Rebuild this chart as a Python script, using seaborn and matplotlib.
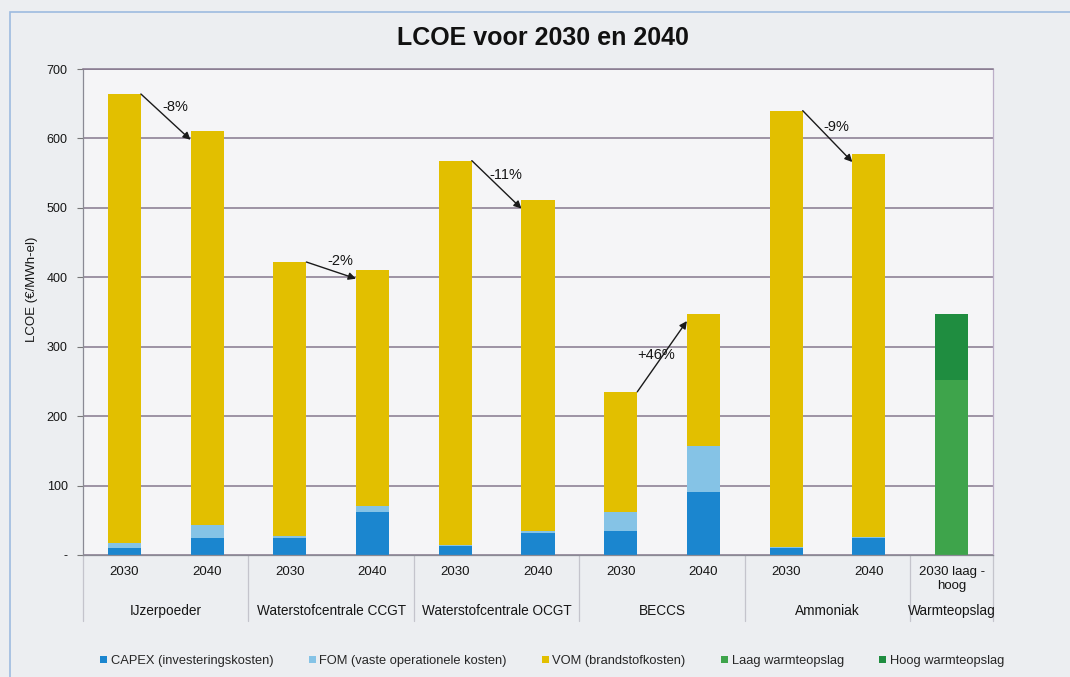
import matplotlib
matplotlib.use("Agg")
import matplotlib.pyplot as plt
import numpy as np
import pandas as pd
import seaborn as sns
from matplotlib.patches import Patch, Rectangle
from matplotlib.lines import Line2D

# ---------------- data ----------------
groups = ["IJzerpoeder", "Waterstofcentrale CCGT", "Waterstofcentrale OCGT",
          "BECCS", "Ammoniak", "Warmteopslag"]
bar_group = [0, 0, 1, 1, 2, 2, 3, 3, 4, 4, 5]
bar_labels = ["2030", "2040", "2030", "2040", "2030", "2040",
              "2030", "2040", "2030", "2040", "2030 laag -\nhoog"]
capex = [10, 24, 25, 62, 13, 32, 35, 91, 10, 24, 0]
fom = [7, 19, 2, 9, 2, 3, 27, 66, 1, 2, 0]
vom = [647, 567, 395, 339, 553, 476, 173, 190, 629, 552, 0]
laag = [0, 0, 0, 0, 0, 0, 0, 0, 0, 0, 252]
hoog = [0, 0, 0, 0, 0, 0, 0, 0, 0, 0, 95]
change_pairs = [0, 2, 4, 6, 8]
change_labels = ["-8%", "-2%", "-11%", "+46%", "-9%"]
yticks = [0, 100, 200, 300, 400, 500, 600, 700]
ytick_labels = ["-", "100", "200", "300", "400", "500", "600", "700"]
legend_labels = ["CAPEX (investeringskosten)", "FOM (vaste operationele kosten)",
                 "VOM (brandstofkosten)", "Laag warmteopslag", "Hoog warmteopslag"]

C_CAPEX = "#1b86cf"
C_FOM = "#85c3e6"
C_VOM = "#e2bf00"
C_LAAG = "#3ea44b"
C_HOOG = "#1f8d40"
TXT = "#161616"

# ---------------- figure ----------------
sns.set_theme(style="white")
plt.rcParams["font.family"] = ["Liberation Sans", "DejaVu Sans"]

W, H = 1070, 677
fig = plt.figure(figsize=(W / 100, H / 100), dpi=100, facecolor="#eceef1")
ax = fig.add_axes([83 / W, 1 - 555 / H, 910 / W, 486 / H])
ax.set_facecolor("#f5f5f7")

ids = [f"b{i}" for i in range(len(bar_labels))]
df = pd.DataFrame({"bar": ids, "capex": capex, "fom": fom, "vom": vom,
                   "laag": laag, "hoog": hoog})
df["cf"] = df["capex"] + df["fom"]
df["total"] = df["cf"] + df["vom"]
df["wtot"] = df["laag"] + df["hoog"]

for col, c in [("total", C_VOM), ("cf", C_FOM), ("capex", C_CAPEX),
               ("wtot", C_HOOG), ("laag", C_LAAG)]:
    sns.barplot(data=df, x="bar", y=col, order=ids, color=c, width=0.4,
                saturation=1, errorbar=None, linewidth=0, ax=ax)

ax.set_xlim(-0.5, len(ids) - 0.5)
ax.set_ylim(0, 700)
ax.set_yticks(yticks)
ax.set_yticklabels(ytick_labels, fontsize=9, color=TXT)
ax.tick_params(axis="y", length=4, width=0.8, color="#777777", pad=7, left=True)
ax.set_xticks(range(len(ids)))
ax.set_xticklabels([""] * len(ids))
ax.tick_params(axis="x", length=0)
ax.set_xlabel("")
ax.set_ylabel("")
ax.set_axisbelow(True)
ax.yaxis.grid(True, color="#86788e", linewidth=1.1)
for s in ["left", "bottom"]:
    ax.spines[s].set_color("#8a8a94")
    ax.spines[s].set_linewidth(0.9)
ax.spines["top"].set_color("#86788e")
ax.spines["top"].set_linewidth(1.1)
ax.spines["right"].set_color("#bcaec8")
ax.spines["right"].set_linewidth(0.9)

# category labels
xt = ax.get_xaxis_transform()
for i, lab in enumerate(bar_labels):
    ax.text(i, -0.022, lab, transform=xt, ha="center", va="top",
            fontsize=9.5, color=TXT, linespacing=1.3)
for g, name in enumerate(groups):
    members = [i for i, bg in enumerate(bar_group) if bg == g]
    ax.text(np.mean(members), -0.115, name, transform=xt, ha="center",
            va="center", fontsize=9.8, color=TXT)
bounds = [-0.5] + [i + 0.5 for i in range(len(bar_group) - 1)
                   if bar_group[i] != bar_group[i + 1]] + [len(ids) - 0.5]
for b in bounds:
    ax.add_line(Line2D([b, b], [0, -0.135], transform=xt, color="#c4c4cc",
                       linewidth=0.9, clip_on=False))

# change arrows
totals = df["total"].values
for i, lab in zip(change_pairs, change_labels):
    y0, y1 = totals[i], totals[i + 1]
    start = (i + 0.2, y0)
    end = (i + 0.8, y1 - 12 if y1 < y0 else y1 - 10)
    ax.annotate("", xy=end, xytext=start,
                arrowprops=dict(arrowstyle="-|>", color="#1a1a1a", lw=1.0,
                                mutation_scale=11, shrinkA=0, shrinkB=0))
    mx, my = (start[0] + end[0]) / 2, (start[1] + end[1]) / 2
    if y1 < y0:
        ax.text(mx + 0.11, my + 14, lab, ha="center", va="center",
                fontsize=10.5, color=TXT)
    else:
        ax.text(mx - 0.07, my + 2, lab, ha="center", va="center",
                fontsize=10.5, color=TXT)

# title and axis label
fig.text(543 / W, 1 - 38 / H, "LCOE voor 2030 en 2040", ha="center",
         va="center", fontsize=18, fontweight="bold", color="#111111")
fig.text(32 / W, 1 - 289 / H, "LCOE (€/MWh-el)", rotation=90, ha="center",
         va="center", fontsize=9.5, color=TXT)

# legend
handles = [Patch(facecolor=c, edgecolor="none")
           for c in [C_CAPEX, C_FOM, C_VOM, C_LAAG, C_HOOG]]
fig.legend(handles, legend_labels, loc="center",
           bbox_to_anchor=(552 / W, 1 - 661 / H), ncol=5, frameon=False,
           handlelength=0.55, handleheight=0.55, handletextpad=0.25,
           columnspacing=2.75, fontsize=9.3)

# outer border lines (top and left)
fig.add_artist(Rectangle((10 / W, -0.1), 1.2, 1 - 12 / H + 0.1,
                         transform=fig.transFigure, fill=False,
                         edgecolor="#9dbbe0", linewidth=1.2))

fig.savefig("out.png", dpi=100, facecolor=fig.get_facecolor())
